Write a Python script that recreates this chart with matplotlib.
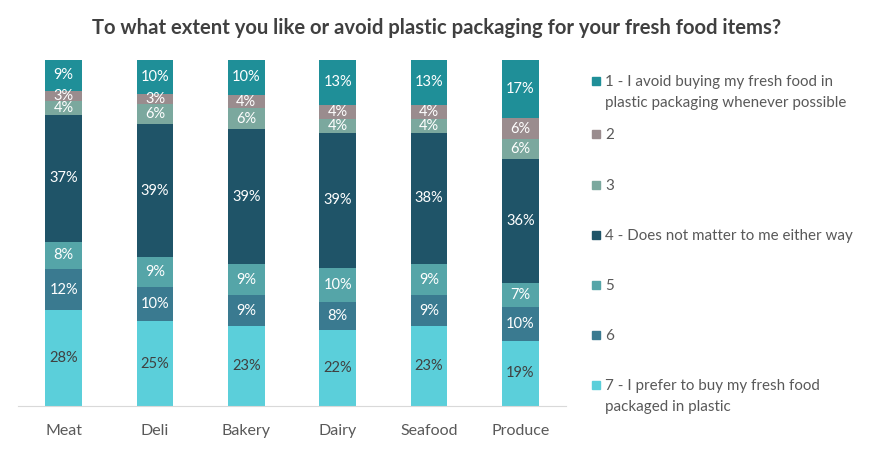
import matplotlib
matplotlib.use("Agg")
import matplotlib.pyplot as plt
import numpy as np
from matplotlib.patches import Rectangle

plt.rcParams['font.family'] = ['Lato', 'DejaVu Sans']

categories = ["Meat", "Deli", "Bakery", "Dairy", "Seafood", "Produce"]
series_labels = [
    "1 - I avoid buying my fresh food in\nplastic packaging whenever possible",
    "2",
    "3",
    "4 - Does not matter to me either way",
    "5",
    "6",
    "7 - I prefer to buy my fresh food\npackaged in plastic",
]
s1 = [9, 10, 10, 13, 13, 17]
s2 = [3, 3, 4, 4, 4, 6]
s3 = [4, 6, 6, 4, 4, 6]
s4 = [37, 39, 39, 39, 38, 36]
s5 = [8, 9, 9, 10, 9, 7]
s6 = [12, 10, 9, 8, 9, 10]
s7 = [28, 25, 23, 22, 23, 19]

colors = ["#1F8F98", "#9A8C8E", "#7BA89E", "#1F5468", "#55A5A8", "#3A7A90", "#5BCFDA"]
label_colors = ["white", "white", "white", "white", "white", "white", "#404040"]

series = [s1, s2, s3, s4, s5, s6, s7]
data = np.array(series, dtype=float)
totals = data.sum(axis=0)
shares = data / totals

fig = plt.figure(figsize=(8.74, 4.49), dpi=100)
ax = fig.add_axes([0.0206, 0.0958, 0.6270, 0.7706])

x = np.arange(len(categories))
bottom = np.zeros(len(categories))
# stack from 7 (bottom) to 1 (top)
for i in range(6, -1, -1):
    vals = shares[i]
    ax.bar(x, vals, width=0.405, bottom=bottom, color=colors[i], edgecolor='none')
    for j in range(len(categories)):
        ax.text(x[j], bottom[j] + vals[j] / 2, f"{int(series[i][j])}%",
                ha='center', va='center', fontsize=10.5, color=label_colors[i])
    bottom += vals

ax.set_xlim(-0.5, len(categories) - 0.5)
ax.set_ylim(0, 1)
ax.set_xticks(x)
ax.set_xticklabels(categories, fontsize=11.5, color='#595959')
ax.tick_params(axis='x', length=0, pad=13)
ax.set_yticks([])
for sp in ['top', 'right', 'left']:
    ax.spines[sp].set_visible(False)
ax.spines['bottom'].set_color('#D9D9D9')

fig.text(0.5, 0.937, "To what extent you like or avoid plastic packaging for your fresh food items?",
         ha='center', va='center', fontsize=14.6, fontweight='bold', color='#404040')

# legend
W, H = 874, 449
ys = [81, 134, 185, 235, 285, 335, 385]
for i, lab in enumerate(series_labels):
    yc = ys[i]
    fig.patches.append(Rectangle((592 / W, 1 - (yc + 4) / H), 8 / W, 8 / H,
                                 transform=fig.transFigure, color=colors[i]))
    fig.text(605 / W, 1 - (yc - 6) / H, lab, ha='left', va='top', fontsize=10.9,
             color='#595959', linespacing=1.6)

fig.savefig("out.png", dpi=100)
